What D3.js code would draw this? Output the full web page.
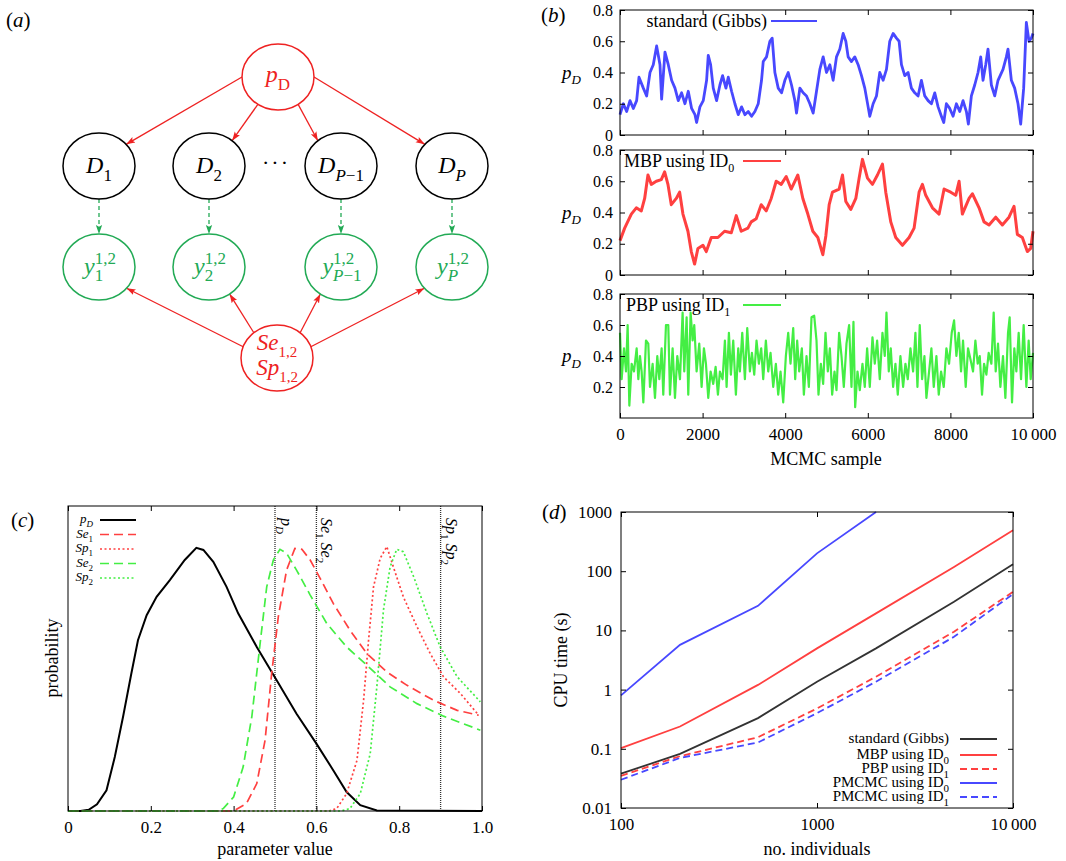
<!DOCTYPE html>
<html lang="en">
<head>
<meta charset="UTF-8">
<title>MCMC comparison</title>
<script src="https://d3js.org/d3.v7.min.js"></script>
<style>
  body { margin: 0; background: #fff; }
  svg { font-family: "Liberation Serif", "Times New Roman", serif; }
  .domain { display: none; }
  .tick line { stroke: #000; }
</style>
</head>
<body>
<script>
// ---- data: panel (b) traces, [MCMC sample, pD] ----
var sampleTicks = [0, 2000, 4000, 6000, 8000, 10000];
var pdTicks = [0, 0.2, 0.4, 0.6, 0.8];

var gibbsTrace = [[0,0.13],[81,0.2],[161,0.15],[242,0.22],[323,0.17],[403,0.22],[460,0.37],[565,0.3],[645,0.25],[726,0.4],
  [806,0.45],[887,0.57],[968,0.45],[1008,0.23],[1089,0.53],[1169,0.45],[1250,0.35],[1331,0.3],[1411,0.22],[1492,0.27],
  [1573,0.2],[1653,0.28],[1734,0.17],[1815,0.13],[1855,0.08],[1935,0.18],[2016,0.22],[2097,0.35],[2137,0.51],[2194,0.45],
  [2258,0.3],[2339,0.22],[2419,0.32],[2484,0.38],[2565,0.3],[2621,0.37],[2702,0.28],[2782,0.2],[2863,0.13],[2944,0.18],
  [3024,0.13],[3105,0.15],[3186,0.12],[3266,0.15],[3347,0.2],[3427,0.35],[3468,0.47],[3548,0.5],[3629,0.6],[3685,0.62],
  [3750,0.4],[3831,0.3],[3911,0.27],[3992,0.35],[4073,0.4],[4153,0.32],[4234,0.22],[4274,0.14],[4355,0.3],[4435,0.27],
  [4516,0.25],[4597,0.2],[4677,0.14],[4758,0.28],[4839,0.42],[4919,0.5],[5000,0.4],[5081,0.45],[5161,0.35],[5242,0.5],
  [5323,0.55],[5403,0.65],[5468,0.6],[5524,0.5],[5605,0.47],[5685,0.5],[5766,0.45],[5847,0.38],[5927,0.3],[6008,0.18],
  [6048,0.12],[6129,0.2],[6210,0.25],[6290,0.4],[6371,0.35],[6452,0.42],[6532,0.6],[6613,0.65],[6694,0.62],[6758,0.6],
  [6815,0.45],[6895,0.38],[6976,0.4],[7056,0.3],[7137,0.27],[7218,0.25],[7298,0.35],[7379,0.25],[7460,0.22],[7540,0.2],
  [7621,0.27],[7702,0.18],[7782,0.12],[7839,0.08],[7903,0.2],[7984,0.17],[8065,0.12],[8145,0.2],[8226,0.15],[8306,0.22],
  [8387,0.15],[8435,0.07],[8508,0.25],[8589,0.32],[8669,0.4],[8734,0.5],[8790,0.35],[8855,0.45],[8911,0.55],[8992,0.32],
  [9073,0.25],[9153,0.35],[9274,0.42],[9355,0.5],[9395,0.55],[9476,0.35],[9556,0.3],[9637,0.2],[9702,0.07],[9774,0.3],
  [9839,0.72],[9903,0.6],[9960,0.62],[10000,0.65]];

var mbpTrace = [[0,0.22],[113,0.3],[274,0.39],[395,0.43],[516,0.41],[597,0.49],[677,0.64],[758,0.58],[879,0.6],[1000,0.61],
  [1081,0.66],[1161,0.58],[1242,0.45],[1363,0.49],[1444,0.53],[1524,0.39],[1645,0.28],[1726,0.15],[1806,0.07],[1887,0.17],
  [2008,0.19],[2089,0.15],[2210,0.24],[2371,0.24],[2532,0.28],[2694,0.27],[2815,0.38],[2935,0.28],[3097,0.3],[3177,0.34],
  [3298,0.36],[3419,0.45],[3540,0.41],[3661,0.49],[3782,0.6],[3903,0.58],[4024,0.63],[4145,0.55],[4306,0.64],[4427,0.49],
  [4548,0.39],[4669,0.28],[4790,0.24],[4911,0.13],[4984,0.25],[5065,0.45],[5145,0.53],[5306,0.55],[5387,0.64],[5468,0.47],
  [5589,0.42],[5710,0.49],[5790,0.62],[5871,0.74],[5992,0.62],[6113,0.58],[6234,0.64],[6355,0.71],[6435,0.53],[6556,0.34],
  [6677,0.24],[6839,0.19],[7000,0.24],[7121,0.3],[7242,0.53],[7323,0.58],[7403,0.51],[7565,0.43],[7726,0.39],[7847,0.55],
  [8008,0.53],[8129,0.51],[8210,0.6],[8290,0.39],[8452,0.49],[8532,0.52],[8694,0.43],[8815,0.34],[8935,0.32],[9097,0.37],
  [9258,0.32],[9419,0.37],[9540,0.44],[9621,0.26],[9742,0.24],[9863,0.15],[9944,0.17],[10000,0.28]];

var pbpTrace = [[0,0.55],[40,0.25],[97,0.45],[145,0.3],[185,0.6],[226,0.08],[282,0.35],[339,0.3],[403,0.45],[444,0.25],
  [484,0.4],[524,0.3],[565,0.1],[629,0.5],[685,0.48],[726,0.2],[790,0.35],[847,0.13],[903,0.4],[952,0.25],
  [1008,0.45],[1048,0.15],[1113,0.6],[1169,0.6],[1210,0.15],[1274,0.45],[1331,0.13],[1387,0.4],[1452,0.25],[1516,0.68],
  [1556,0.3],[1613,0.65],[1653,0.15],[1710,0.68],[1758,0.5],[1798,0.6],[1855,0.3],[1919,0.48],[1976,0.2],[2032,0.45],
  [2081,0.35],[2137,0.13],[2194,0.3],[2258,0.22],[2315,0.33],[2371,0.15],[2419,0.3],[2484,0.25],[2540,0.5],[2581,0.2],
  [2637,0.55],[2685,0.28],[2742,0.5],[2806,0.15],[2863,0.45],[2903,0.3],[2960,0.55],[3024,0.25],[3081,0.58],[3145,0.3],
  [3194,0.42],[3250,0.28],[3306,0.5],[3363,0.35],[3419,0.45],[3468,0.25],[3532,0.5],[3589,0.3],[3645,0.42],[3710,0.2],
  [3774,0.35],[3831,0.15],[3887,0.3],[3952,0.1],[4016,0.4],[4073,0.55],[4129,0.35],[4194,0.58],[4242,0.25],[4290,0.5],
  [4339,0.3],[4403,0.45],[4452,0.15],[4516,0.4],[4573,0.2],[4637,0.65],[4702,0.66],[4758,0.5],[4806,0.15],[4863,0.35],
  [4919,0.22],[4976,0.55],[5032,0.3],[5081,0.45],[5137,0.15],[5194,0.3],[5242,0.18],[5306,0.55],[5363,0.4],[5419,0.2],
  [5484,0.48],[5548,0.6],[5605,0.2],[5653,0.62],[5694,0.07],[5750,0.3],[5806,0.18],[5871,0.35],[5927,0.2],[5984,0.45],
  [6048,0.2],[6113,0.52],[6169,0.35],[6226,0.5],[6290,0.25],[6355,0.55],[6411,0.4],[6452,0.68],[6508,0.3],[6556,0.45],
  [6613,0.2],[6669,0.35],[6726,0.15],[6790,0.4],[6855,0.2],[6911,0.35],[6968,0.25],[7032,0.45],[7097,0.3],[7153,0.55],
  [7202,0.2],[7258,0.6],[7315,0.25],[7371,0.4],[7419,0.13],[7484,0.3],[7540,0.45],[7597,0.2],[7661,0.4],[7718,0.15],
  [7774,0.3],[7839,0.2],[7903,0.45],[7968,0.35],[8032,0.55],[8089,0.63],[8145,0.4],[8202,0.55],[8258,0.3],[8306,0.5],
  [8371,0.2],[8427,0.45],[8484,0.38],[8548,0.3],[8605,0.5],[8661,0.35],[8710,0.4],[8766,0.15],[8815,0.35],[8871,0.28],
  [8927,0.42],[8992,0.35],[9048,0.68],[9097,0.3],[9153,0.48],[9210,0.2],[9274,0.4],[9331,0.13],[9395,0.55],[9435,0.65],
  [9492,0.1],[9548,0.45],[9597,0.3],[9653,0.55],[9710,0.25],[9774,0.6],[9839,0.2],[9895,0.5],[9944,0.25],[10000,0.42]];

// ---- data: panel (c) posterior curves, [parameter value, relative density] ----
var paramTicks = [0, 0.2, 0.4, 0.6, 0.8, 1.0];
var truthLines = [0.5, 0.6, 0.9];
var pdCurve = [[0,0],[0.03,0],[0.05,0.004],[0.07,0.022],[0.093,0.068],[0.113,0.177],[0.133,0.309],[0.153,0.451],[0.169,0.56],
  [0.19,0.642],[0.214,0.702],[0.246,0.757],[0.282,0.823],[0.31,0.863],[0.327,0.856],[0.351,0.817],[0.383,0.735],[0.411,0.648],
  [0.456,0.538],[0.504,0.429],[0.552,0.319],[0.6,0.221],[0.641,0.133],[0.673,0.062],[0.706,0.019],[0.746,0.002],[1,0]];
var se1Curve = [[0,0],[0.4,0],[0.431,0.024],[0.456,0.09],[0.476,0.232],[0.492,0.451],[0.508,0.637],[0.528,0.79],[0.548,0.861],
  [0.565,0.858],[0.585,0.823],[0.609,0.763],[0.641,0.68],[0.681,0.593],[0.722,0.516],[0.77,0.456],[0.819,0.412],[0.883,0.363],
  [0.94,0.33],[0.992,0.314]];
var sp1Curve = [[0,0],[0.63,0],[0.649,0.008],[0.673,0.057],[0.698,0.166],[0.714,0.363],[0.726,0.56],[0.738,0.735],[0.754,0.828],
  [0.77,0.867],[0.786,0.8],[0.81,0.702],[0.843,0.604],[0.875,0.516],[0.907,0.44],[0.948,0.385],[0.992,0.314]];
var se2Curve = [[0,0],[0.36,0],[0.375,0.008],[0.4,0.046],[0.423,0.144],[0.444,0.309],[0.464,0.549],[0.48,0.735],[0.496,0.823],
  [0.512,0.858],[0.528,0.845],[0.552,0.79],[0.585,0.708],[0.625,0.615],[0.673,0.538],[0.722,0.478],[0.778,0.407],[0.843,0.352],
  [0.907,0.311],[0.996,0.265]];
var sp2Curve = [[0,0],[0.66,0],[0.681,0.008],[0.706,0.057],[0.73,0.188],[0.746,0.407],[0.762,0.659],[0.778,0.8],[0.794,0.858],
  [0.81,0.85],[0.835,0.768],[0.867,0.648],[0.899,0.538],[0.94,0.44],[0.996,0.358]];

// ---- data: panel (d) CPU time (s) against number of individuals ----
var individuals = [100, 200, 500, 1000, 2000, 5000, 10000];
var gibbsTime = [0.038, 0.082, 0.33, 1.36, 4.97, 30.4, 131];
var mbpTime = [0.103, 0.238, 1.2, 4.97, 19.4, 118, 491];
var pbpTime = [0.035, 0.075, 0.157, 0.48, 1.65, 9.5, 44.9];
var pmcmc0Time = [0.8, 5.7, 26, 200, 1000];
var pmcmc1Time = [0.030, 0.07, 0.128, 0.4, 1.36, 7.8, 41];
var timeTicks = [0.01, 0.1, 1, 10, 100, 1000];
var indTicks = [100, 1000, 10000];

var RED = "#ff4040", BLUE = "#4848ff", GREEN = "#44ee44", DRED = "#ee2222", DGREEN = "#22aa55";

var svg = d3.select("body").append("svg").attr("width", 1066).attr("height", 861);

// rich text: parts [{t, i, sub, sup}]
function rich(sel, parts, small) {
    var shift = 0;
    parts.forEach(function (p) {
        var target = p.sub ? small * 0.45 : (p.sup ? -small * 0.6 : 0);
        var ts = sel.append("tspan").text(p.t).attr("dy", target - shift)
            .attr("font-style", p.i ? "italic" : "normal");
        if (p.sub || p.sup) ts.attr("font-size", small);
        shift = target;
    });
    return sel;
}

function panelLabel(x, y, letter) {
    rich(svg.append("text").attr("x", x).attr("y", y).attr("font-size", 21),
        [{t: "("}, {t: letter, i: true}, {t: ")"}], 14);
}

function frame(x0, x1, y0, y1) {
    svg.append("rect").attr("x", x0).attr("y", y0).attr("width", x1 - x0).attr("height", y1 - y0)
        .attr("fill", "none").attr("stroke", "#000").attr("stroke-width", 1);
}

// d3 axes set their own font; put ours back afterwards
function axisFont(g, size) {
    return g.attr("font-family", null).attr("font-size", size);
}

function numFmt(d) {
    if (d >= 10000) return "10\u2009000";
    return String(d);
}

// ================= panel (a) =================
panelLabel(6, 27, "a");
var RX = 36, RY = 33;
var nodes = {
    pD: {x: 278, y: 77, c: DRED}, S: {x: 277, y: 358, c: DRED},
    D1: {x: 99, y: 166, c: "#000"}, D2: {x: 209, y: 166, c: "#000"},
    D3: {x: 341, y: 166, c: "#000"}, D4: {x: 452, y: 166, c: "#000"},
    Y1: {x: 99, y: 267, c: DGREEN}, Y2: {x: 209, y: 267, c: DGREEN},
    Y3: {x: 341, y: 267, c: DGREEN}, Y4: {x: 452, y: 267, c: DGREEN}
};
var edges = [
    ["pD", 180, "D1", -41, "r"], ["pD", 124, "D2", -50, "r"], ["pD", 56, "D3", -130, "r"], ["pD", 0, "D4", -139, "r"],
    ["S", -160, "Y1", 40, "r"], ["S", -130, "Y2", 55, "r"], ["S", -50, "Y3", 125, "r"], ["S", -20, "Y4", 140, "r"],
    ["D1", 90, "Y1", -90, "g"], ["D2", 90, "Y2", -90, "g"], ["D3", 90, "Y3", -90, "g"], ["D4", 90, "Y4", -90, "g"]
];
var defs = svg.append("defs");
[["arrR", DRED], ["arrG", DGREEN]].forEach(function (m) {
    defs.append("marker").attr("id", m[0]).attr("viewBox", "0 0 10 10").attr("refX", 10).attr("refY", 5)
        .attr("markerWidth", 9).attr("markerHeight", 9).attr("markerUnits", "userSpaceOnUse")
        .attr("orient", "auto")
        .append("path").attr("d", "M0,1.5L10,5L0,8.5L2,5z").attr("fill", m[1]);
});
function edgePt(n, ang) {
    var a = ang * Math.PI / 180;
    return [n.x + RX * Math.cos(a), n.y + RY * Math.sin(a)];
}
var diag = svg.append("g");
edges.forEach(function (e) {
    var p0 = edgePt(nodes[e[0]], e[1]), p1 = edgePt(nodes[e[2]], e[3]);
    diag.append("line").attr("x1", p0[0]).attr("y1", p0[1]).attr("x2", p1[0]).attr("y2", p1[1])
        .attr("stroke", e[4] === "r" ? DRED : DGREEN).attr("stroke-width", 1.3)
        .attr("stroke-dasharray", e[4] === "g" ? "4,3" : null)
        .attr("marker-end", e[4] === "r" ? "url(#arrR)" : "url(#arrG)");
});
Object.keys(nodes).forEach(function (k) {
    var n = nodes[k];
    diag.append("ellipse").attr("cx", n.x).attr("cy", n.y).attr("rx", RX).attr("ry", RY)
        .attr("fill", "none").attr("stroke", n.c).attr("stroke-width", 1.5);
});
rich(diag.append("text").attr("x", nodes.pD.x).attr("y", 82).attr("text-anchor", "middle")
    .attr("font-size", 24).attr("fill", DRED), [{t: "p", i: true}, {t: "D", sub: true}], 17);
var dSubs = {D1: [{t: "1", sub: true}], D2: [{t: "2", sub: true}],
    D3: [{t: "P", i: true, sub: true}, {t: "\u22121", sub: true}], D4: [{t: "P", i: true, sub: true}]};
Object.keys(dSubs).forEach(function (k) {
    rich(diag.append("text").attr("x", nodes[k].x).attr("y", 173).attr("text-anchor", "middle")
        .attr("font-size", 24), [{t: "D", i: true}].concat(dSubs[k]), 17);
});
diag.append("text").attr("x", 276).attr("y", 170).attr("text-anchor", "middle").attr("font-size", 22)
    .attr("letter-spacing", 2).text("\u00b7\u00b7\u00b7");
var ySubs = {Y1: [{t: "1"}], Y2: [{t: "2"}], Y3: [{t: "P", i: true}, {t: "\u22121"}], Y4: [{t: "P", i: true}]};
Object.keys(ySubs).forEach(function (k) {
    var g = diag.append("g").attr("fill", DGREEN);
    g.append("text").attr("x", 0).attr("y", 274).attr("text-anchor", "end").attr("font-size", 24)
        .attr("font-style", "italic").text("y");
    g.append("text").attr("x", 0).attr("y", 264).attr("font-size", 17).text("1,2");
    var sub = g.append("text").attr("x", 0).attr("y", 281).attr("font-size", 17);
    ySubs[k].forEach(function (p) {
        sub.append("tspan").text(p.t).attr("font-style", p.i ? "italic" : "normal");
    });
    var bb = g.node().getBBox();
    g.attr("transform", "translate(" + (nodes[k].x - (bb.x + bb.width / 2)) + ",0)");
});
[["Se", 350], ["Sp", 375]].forEach(function (r) {
    rich(diag.append("text").attr("x", nodes.S.x).attr("y", r[1]).attr("text-anchor", "middle")
        .attr("font-size", 23).attr("fill", DRED), [{t: r[0], i: true}, {t: "1,2", sub: true}], 15);
});

// ================= panel (b) =================
panelLabel(541, 22, "b");
var xB = d3.scaleLinear().domain([0, 10000]).range([620, 1033]);
var bPanels = [
    {top: 10, bottom: 135, data: gibbsTrace, color: BLUE, width: 2.8,
        legend: [{t: "standard (Gibbs)"}], lx: 767, ly: 27, anchor: "end", lineX: [771, 817], yTicks: pdTicks},
    {top: 150, bottom: 275, data: mbpTrace, color: RED, width: 3,
        legend: [{t: "MBP using ID"}, {t: "0", sub: true}], lx: 624, ly: 167, anchor: "start", lineX: [743, 781], yTicks: pdTicks},
    {top: 294, bottom: 418, data: pbpTrace, color: GREEN, width: 2.2,
        legend: [{t: "PBP using ID"}, {t: "1", sub: true}], lx: 626, ly: 311, anchor: "start", lineX: [743, 781],
        yTicks: pdTicks.slice(1), labels: true}
];
bPanels.forEach(function (p) {
    var y = d3.scaleLinear().domain([0, 0.8]).range([p.bottom, p.top]);
    var line = d3.line().x(function (d) { return xB(d[0]); }).y(function (d) { return y(d[1]); });
    svg.append("path").datum(p.data).attr("d", line).attr("fill", "none")
        .attr("stroke", p.color).attr("stroke-width", p.width).attr("stroke-linejoin", "round");
    var fmt = function (d) { return d === 0 ? "0" : d.toFixed(1); };
    axisFont(svg.append("g").attr("transform", "translate(620,0)")
        .call(d3.axisLeft(y).tickValues(p.yTicks).tickSize(-5).tickPadding(7).tickFormat(fmt)), 16);
    svg.append("g").attr("transform", "translate(1033,0)")
        .call(d3.axisRight(y).tickValues(p.yTicks).tickSize(-5).tickFormat(""));
    axisFont(svg.append("g").attr("transform", "translate(0," + p.bottom + ")")
        .call(d3.axisBottom(xB).tickValues(sampleTicks).tickSize(-5).tickPadding(10)
            .tickFormat(p.labels ? numFmt : "")), 17);
    svg.append("g").attr("transform", "translate(0," + p.top + ")")
        .call(d3.axisTop(xB).tickValues(sampleTicks).tickSize(-5).tickFormat(""));
    frame(620, 1033, p.top, p.bottom);
    rich(svg.append("text").attr("x", p.lx).attr("y", p.ly).attr("text-anchor", p.anchor).attr("font-size", 18),
        p.legend, 12);
    svg.append("line").attr("x1", p.lineX[0]).attr("x2", p.lineX[1]).attr("y1", p.ly - 6).attr("y2", p.ly - 6)
        .attr("stroke", p.color).attr("stroke-width", 2);
    rich(svg.append("text").attr("x", 562).attr("y", (p.top + p.bottom) / 2 + 6).attr("font-size", 19),
        [{t: "p", i: true}, {t: "D", i: true, sub: true}], 13);
});
svg.append("text").attr("x", 826).attr("y", 465).attr("text-anchor", "middle").attr("font-size", 18).text("MCMC sample");

// ================= panel (c) =================
panelLabel(11, 527, "c");
var xC = d3.scaleLinear().domain([0, 1]).range([68, 482]);
var yC = d3.scaleLinear().domain([0, 1]).range([811, 506]);
truthLines.forEach(function (v) {
    svg.append("line").attr("x1", xC(v)).attr("x2", xC(v)).attr("y1", 506).attr("y2", 811)
        .attr("stroke", "#333").attr("stroke-width", 1.3).attr("stroke-dasharray", "1,1");
});
var cSeries = [
    {data: pdCurve, color: "#000", dash: null, w: 2, label: [{t: "p", i: true}, {t: "D", i: true, sub: true}]},
    {data: se1Curve, color: RED, dash: "9,5", w: 1.7, label: [{t: "Se", i: true}, {t: "1", sub: true}]},
    {data: sp1Curve, color: RED, dash: "2,2.5", w: 1.7, label: [{t: "Sp", i: true}, {t: "1", sub: true}]},
    {data: se2Curve, color: GREEN, dash: "9,5", w: 1.7, label: [{t: "Se", i: true}, {t: "2", sub: true}]},
    {data: sp2Curve, color: GREEN, dash: "2,2.5", w: 1.7, label: [{t: "Sp", i: true}, {t: "2", sub: true}]}
];
var lineC = d3.line().x(function (d) { return xC(d[0]); }).y(function (d) { return yC(d[1]); });
cSeries.forEach(function (s, i) {
    svg.append("path").datum(s.data).attr("d", lineC).attr("fill", "none").attr("stroke", s.color)
        .attr("stroke-width", s.w).attr("stroke-dasharray", s.dash);
    var ly = 520 + i * 14.5;
    rich(svg.append("text").attr("x", 93).attr("y", ly + 3).attr("text-anchor", "end").attr("font-size", 13),
        s.label, 9);
    svg.append("line").attr("x1", 100).attr("x2", 136).attr("y1", ly).attr("y2", ly)
        .attr("stroke", s.color).attr("stroke-width", s.w).attr("stroke-dasharray", s.dash);
});
var truthLabels = [
    {v: 0.5, dx: 6, parts: [{t: "p", i: true}, {t: "D", i: true, sub: true}]},
    {v: 0.6, dx: 5, parts: [{t: "Se", i: true}, {t: "1", sub: true}, {t: " Se", i: true}, {t: "2", sub: true}]},
    {v: 0.9, dx: 5, parts: [{t: "Sp", i: true}, {t: "1", sub: true}, {t: " Sp", i: true}, {t: "2", sub: true}]}
];
truthLabels.forEach(function (l) {
    rich(svg.append("text").attr("transform", "translate(" + (xC(l.v) + l.dx) + ",518) rotate(90)")
        .attr("font-size", 16), l.parts, 11);
});
axisFont(svg.append("g").attr("transform", "translate(0,811)")
    .call(d3.axisBottom(xC).tickValues(paramTicks).tickSize(-5).tickPadding(10)
        .tickFormat(function (d) { return d === 0 ? "0" : d.toFixed(1); })), 17);
svg.append("g").attr("transform", "translate(0,506)")
    .call(d3.axisTop(xC).tickValues(paramTicks).tickSize(-5).tickFormat(""));
frame(68, 482, 506, 811);
svg.append("text").attr("x", 275).attr("y", 855).attr("text-anchor", "middle").attr("font-size", 18).text("parameter value");
svg.append("text").attr("transform", "translate(58,658) rotate(-90)").attr("text-anchor", "middle")
    .attr("font-size", 18).text("probability");

// ================= panel (d) =================
panelLabel(542, 519, "d");
var xD = d3.scaleLog().domain([100, 10000]).range([621, 1013]);
var yD = d3.scaleLog().domain([0.01, 1000]).range([808, 512]);
var dSeries = [
    {y: gibbsTime, color: "#333", dash: null, label: [{t: "standard (Gibbs)"}]},
    {y: mbpTime, color: RED, dash: null, label: [{t: "MBP using ID"}, {t: "0", sub: true}]},
    {y: pbpTime, color: RED, dash: "7,4", label: [{t: "PBP using ID"}, {t: "1", sub: true}]},
    {y: pmcmc0Time, color: BLUE, dash: null, label: [{t: "PMCMC using ID"}, {t: "0", sub: true}]},
    {y: pmcmc1Time, color: BLUE, dash: "7,4", label: [{t: "PMCMC using ID"}, {t: "1", sub: true}]}
];
var lineD = d3.line().x(function (d) { return xD(d[0]); }).y(function (d) { return yD(d[1]); });
var legY = [739, 755, 769, 783, 797];
dSeries.forEach(function (s, i) {
    var pts = s.y.map(function (v, j) { return [individuals[j], v]; });
    svg.append("path").datum(pts).attr("d", lineD).attr("fill", "none").attr("stroke", s.color)
        .attr("stroke-width", 1.8).attr("stroke-dasharray", s.dash);
    rich(svg.append("text").attr("x", 949).attr("y", legY[i] + 4).attr("text-anchor", "end").attr("font-size", 15),
        s.label, 11);
    svg.append("line").attr("x1", 960).attr("x2", 997).attr("y1", legY[i]).attr("y2", legY[i])
        .attr("stroke", s.color).attr("stroke-width", 1.8).attr("stroke-dasharray", s.dash);
});
axisFont(svg.append("g").attr("transform", "translate(621,0)")
    .call(d3.axisLeft(yD).tickValues(timeTicks).tickSize(-5).tickPadding(9)
        .tickFormat(function (d) { return String(d); })), 17);
svg.append("g").attr("transform", "translate(1013,0)")
    .call(d3.axisRight(yD).tickValues(timeTicks).tickSize(-5).tickFormat(""));
axisFont(svg.append("g").attr("transform", "translate(0,808)")
    .call(d3.axisBottom(xD).tickValues(indTicks).tickSize(-5).tickPadding(10).tickFormat(numFmt)), 17);
svg.append("g").attr("transform", "translate(0,512)")
    .call(d3.axisTop(xD).tickValues(indTicks).tickSize(-5).tickFormat(""));
frame(621, 1013, 512, 808);
svg.append("text").attr("x", 817).attr("y", 855).attr("text-anchor", "middle").attr("font-size", 18).text("no. individuals");
svg.append("text").attr("transform", "translate(567,660) rotate(-90)").attr("text-anchor", "middle")
    .attr("font-size", 18).text("CPU time (s)");
</script>
</body>
</html>
